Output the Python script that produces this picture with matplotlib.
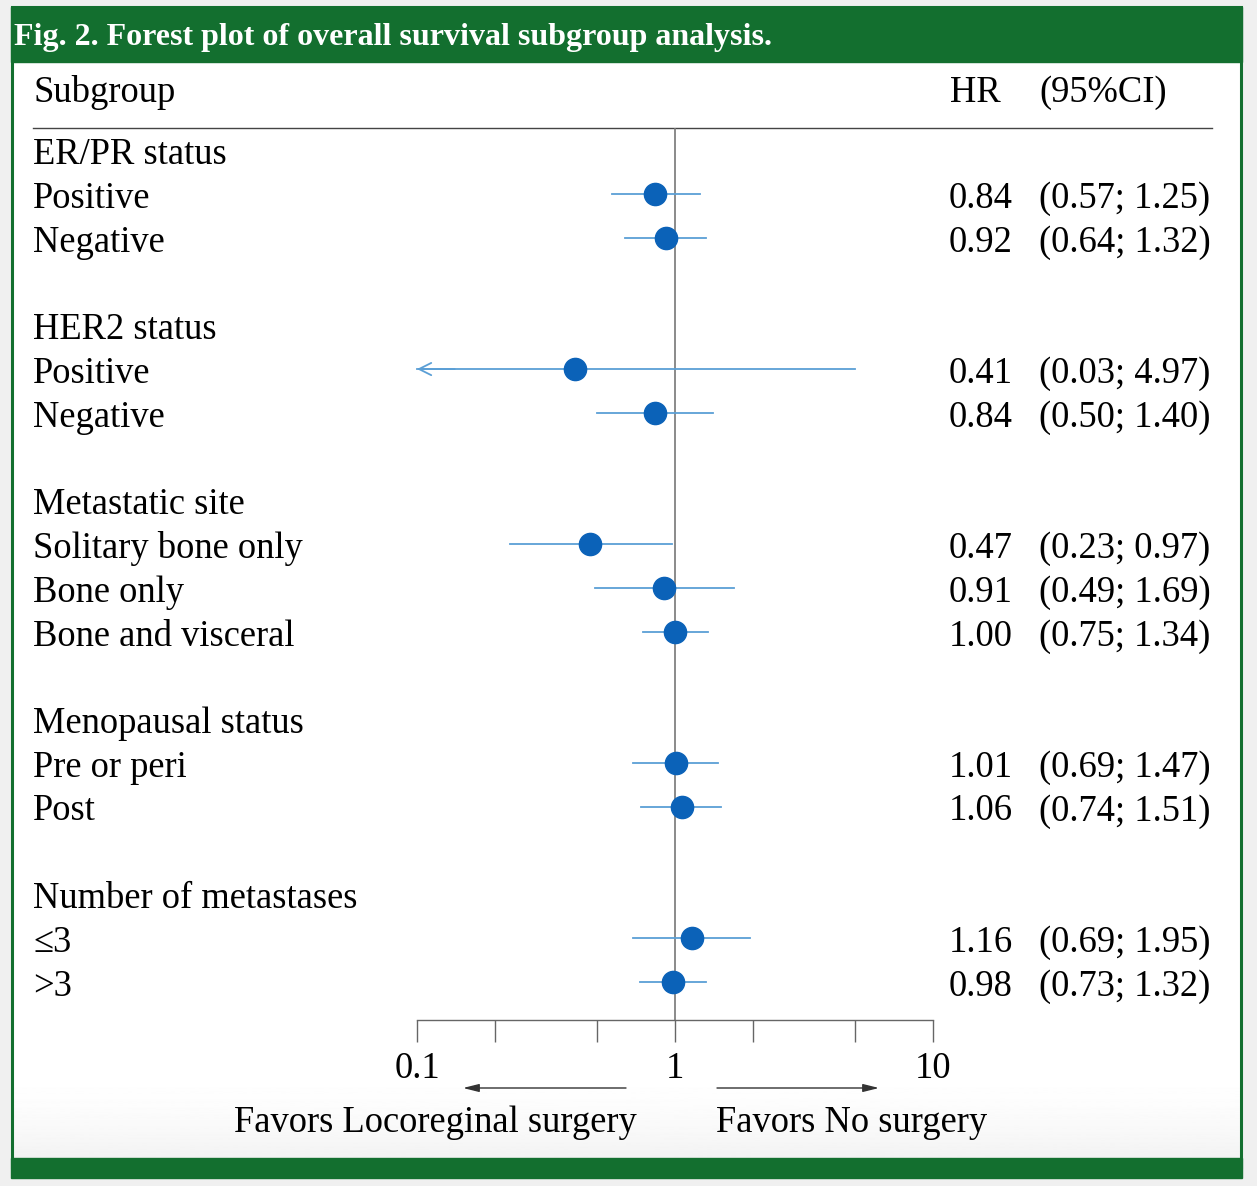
import numpy as np
import matplotlib
matplotlib.use("Agg")
import matplotlib.pyplot as plt
from matplotlib.patches import Rectangle

# datos del forest plot
etiquetas = ["ER/PR status", "Positive", "Negative", "",
             "HER2 status", "Positive", "Negative", "",
             "Metastatic site", "Solitary bone only", "Bone only", "Bone and visceral", "",
             "Menopausal status", "Pre or peri", "Post", "",
             "Number of metastases", "\u22643", ">3"]
filas = [1, 2, 5, 6, 9, 10, 11, 14, 15, 18, 19]
hr = [0.84, 0.92, 0.41, 0.84, 0.47, 0.91, 1.00, 1.01, 1.06, 1.16, 0.98]
ic_inf = [0.57, 0.64, 0.03, 0.50, 0.23, 0.49, 0.75, 0.69, 0.74, 0.69, 0.73]
ic_sup = [1.25, 1.32, 4.97, 1.40, 0.97, 1.69, 1.34, 1.47, 1.51, 1.95, 1.32]
ticks_x = [0.1, 1, 10]
ticks_menores = [0.2, 0.5, 2, 5]

W, H = 1257, 1186
verde = "#136f2f"
azul = "#0b62b8"
azul_linea = "#5b9fd6"
fuente = "Liberation Serif"
tam = 26.3
dy = 2  # ajuste vertical del texto

fig = plt.figure(figsize=(W / 100, H / 100), dpi=100)

# fondo en coordenadas de pixel
fondo = fig.add_axes([0, 0, 1, 1])
fondo.set_xlim(0, W)
fondo.set_ylim(H, 0)
fondo.axis("off")
fondo.add_patch(Rectangle((0, 0), W, H, color="#f0f0f0", zorder=0))
grad = np.linspace(0, 1, 100).reshape(-1, 1)
fondo.add_patch(Rectangle((12, 7), 1229, 1160, facecolor="white", edgecolor="none", zorder=1))
fondo.imshow(1 - 0.05 * grad ** 2, cmap="gray", vmin=0, vmax=1, extent=(13, 1240, 1158, 1060),
             aspect="auto", zorder=1.5)
fondo.add_patch(Rectangle((12, 7), 1229, 1160, facecolor="none", edgecolor=verde, lw=2.2, zorder=2))
fondo.add_patch(Rectangle((11, 7), 1231, 55, color=verde, zorder=2))
fondo.add_patch(Rectangle((11, 1158), 1231, 20, color=verde, zorder=2))
fondo.text(14, 38, "Fig. 2. Forest plot of overall survival subgroup analysis.", color="white",
           fontsize=23, fontweight="bold", family=fuente, va="center", ha="left", zorder=3)

# encabezados
fondo.text(33, 91 + dy, "Subgroup", fontsize=tam, family=fuente, va="center", zorder=3)
fondo.text(1001, 91 + dy, "HR", fontsize=tam, family=fuente, va="center", ha="right", zorder=3)
fondo.text(1039, 91 + dy, "(95%CI)", fontsize=tam, family=fuente, va="center", ha="left", zorder=3)
fondo.plot([33, 1212], [128, 128], color="#444444", lw=1.0, zorder=3)

# filas de texto
fila0, paso = 153, 43.75
for k, et in enumerate(etiquetas):
    if et:
        fondo.text(33, fila0 + paso * k + dy, et, fontsize=tam, family=fuente, va="center", zorder=3)
for k, h, a, b in zip(filas, hr, ic_inf, ic_sup):
    y = fila0 + paso * k + dy
    fondo.text(1013, y, f"{h:.2f}", fontsize=tam, family=fuente, va="center", ha="right", zorder=3)
    fondo.text(1039, y, f"({a:.2f}; {b:.2f})", fontsize=tam, family=fuente, va="center", ha="left", zorder=3)

# eje del forest plot
x0, x1 = 417, 933
y_top, y_bot = 128, 1020
fila0_marca = 150.3
ax = fig.add_axes([x0 / W, 1 - y_bot / H, (x1 - x0) / W, (y_bot - y_top) / H])
ax.patch.set_alpha(0)
ax.set_xscale("log")
ax.set_xlim(0.1, 10)
ax.set_ylim((y_bot - fila0_marca) / paso, (y_top - fila0_marca) / paso)
for s in ["top", "left", "right"]:
    ax.spines[s].set_visible(False)
ax.spines["bottom"].set_color("#666666")
ax.spines["bottom"].set_linewidth(1.0)
ax.set_yticks([])
ax.set_xticks(ticks_x)
ax.set_xticklabels(["0.1", "1", "10"])
ax.set_xticks(ticks_menores, minor=True)
ax.xaxis.set_minor_formatter(plt.NullFormatter())
ax.tick_params(axis="x", which="both", direction="out", length=16, width=1.0, color="#666666",
               labelsize=tam, pad=7)
for lab in ax.get_xticklabels():
    lab.set_family(fuente)
ax.axvline(1, color="#777777", lw=1.2, zorder=1)

for k, h, a, b in zip(filas, hr, ic_inf, ic_sup):
    izq = max(a, 0.1)
    ax.plot([izq, b], [k, k], color=azul_linea, lw=1.3, zorder=2, clip_on=False)
    if a < 0.1:
        ax.annotate("", xy=(0.1, k), xytext=(0.14, k),
                    arrowprops=dict(arrowstyle="->", color=azul_linea, lw=1.3,
                                    mutation_scale=22, shrinkA=0, shrinkB=0))
    ax.plot(h, k, "o", color=azul, ms=16, zorder=3, clip_on=False)

# flechas de favorece
fondo.annotate("", xy=(463, 1088), xytext=(626, 1088),
               arrowprops=dict(arrowstyle="-|>,head_length=0.8,head_width=0.2", color="#333333",
                               lw=1.0, mutation_scale=12, shrinkA=0, shrinkB=0), zorder=3)
fondo.annotate("", xy=(879, 1088), xytext=(717, 1088),
               arrowprops=dict(arrowstyle="-|>,head_length=0.8,head_width=0.2", color="#333333",
                               lw=1.0, mutation_scale=12, shrinkA=0, shrinkB=0), zorder=3)
fondo.text(435, 1121 + dy, "Favors Locoreginal surgery", fontsize=tam, family=fuente,
           va="center", ha="center", zorder=3)
fondo.text(852, 1121 + dy, "Favors No surgery", fontsize=tam, family=fuente,
           va="center", ha="center", zorder=3)

fig.savefig("out.png", dpi=100)
